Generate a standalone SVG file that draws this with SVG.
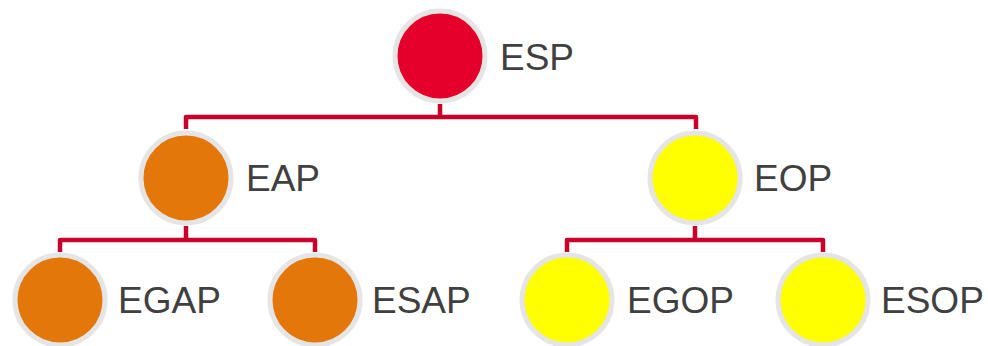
<svg xmlns="http://www.w3.org/2000/svg" width="988" height="346" viewBox="0 0 988 346">
<style>
.c{stroke:#E5E5E5;stroke-width:5}
.r{fill:#E4002B}
.o{fill:#E37709}
.y{fill:#FFFF00}
.l{font-family:"Liberation Sans",Arial,sans-serif;font-size:37px;fill:#404040}
.k{fill:none;stroke:#C8002A;stroke-width:4.5;stroke-linejoin:round}
</style>
<rect width="988" height="346" fill="#fff"/>
<g id="connectors">
<path class="k" d="M440,104 V117 M186,129 V117 H696 V129"/>
<path class="k" d="M186,226 V240 M60,252 V240 H315 V252"/>
<path class="k" d="M695,226 V240 M567,252 V240 H823 V252"/>
</g>
<g id="ESP"><circle class="c r" cx="440" cy="56" r="45"/><text class="l" x="500" y="70">ESP</text></g>
<g id="EAP"><circle class="c o" cx="186" cy="178" r="45"/><text class="l" x="246" y="191">EAP</text></g>
<g id="EOP"><circle class="c y" cx="695" cy="178" r="45"/><text class="l" x="754" y="191">EOP</text></g>
<g id="EGAP"><circle class="c o" cx="60" cy="300" r="45"/><text class="l" x="118" y="313">EGAP</text></g>
<g id="ESAP"><circle class="c o" cx="315" cy="300" r="45"/><text class="l" x="372" y="313">ESAP</text></g>
<g id="EGOP"><circle class="c y" cx="567" cy="300" r="45"/><text class="l" x="627" y="313">EGOP</text></g>
<g id="ESOP"><circle class="c y" cx="823" cy="300" r="45"/><text class="l" x="881" y="313">ESOP</text></g>
</svg>
